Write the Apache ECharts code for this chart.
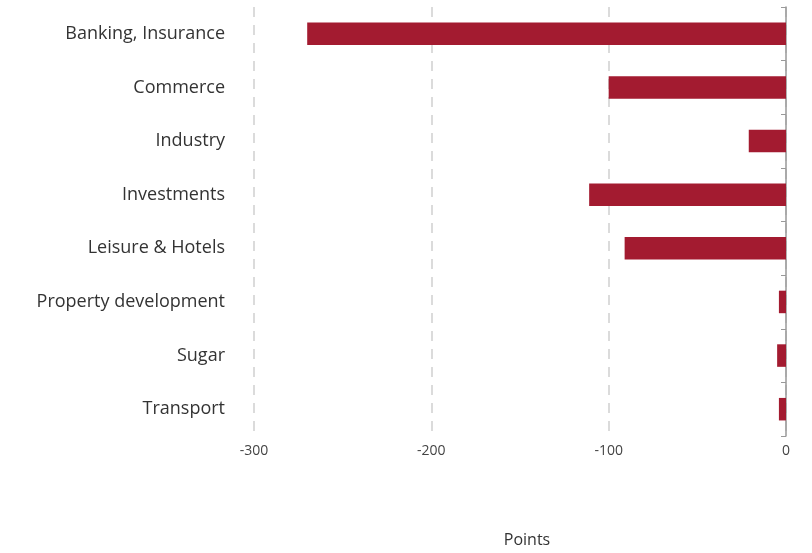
<!DOCTYPE html>
<html><head><meta charset="utf-8">
<script src="https://cdn.jsdelivr.net/npm/echarts@6/dist/echarts.min.js"></script>
<style>html,body{margin:0;padding:0;background:#fff}#c{width:812px;height:553px}</style>
</head><body><div id="c"></div>
<script>
const categories = ["Banking, Insurance","Commerce","Industry","Investments","Leisure & Hotels","Property development","Sugar","Transport"];
const values = [-270, -100, -21, -111, -91, -4, -5, -4];
const xTicks = [-300, -200, -100, 0];

const chart = echarts.init(document.getElementById('c'));
chart.setOption({
  animation: false,
  grid: {left: 254, right: 26, top: 7, bottom: 116},
  xAxis: {
    type: 'value', min: -300, max: 0, interval: 100,
    name: 'Points', nameLocation: 'middle', nameGap: 96,
    nameTextStyle: {fontFamily: 'Open Sans', fontSize: 16, color: '#333', padding: [0, 0, 0, 14]},
    axisLine: {show: false}, axisTick: {show: false},
    axisLabel: {fontFamily: 'Open Sans', fontSize: 14, color: '#444', margin: 8,
      formatter: v => xTicks.includes(v) ? String(v) : ''},
    splitLine: {show: true, lineStyle: {color: '#cfcfcf', type: [10, 8], width: 1.5}}
  },
  yAxis: [{
    type: 'category', data: categories, inverse: true, position: 'left',
    axisLine: {show: false}, axisTick: {show: false},
    axisLabel: {fontFamily: 'Open Sans', fontSize: 18, color: '#333', margin: 29}
  }, {
    type: 'category', data: categories, inverse: true, position: 'right',
    axisLine: {show: true, lineStyle: {color: '#999', width: 1.5}},
    axisTick: {show: true, inside: true, length: 5, lineStyle: {color: '#999'}},
    axisLabel: {show: false}
  }],
  series: [{
    type: 'bar', data: values, yAxisIndex: 0,
    barCategoryGap: '58%',
    itemStyle: {color: '#a31b30'}
  }]
});
</script></body></html>
